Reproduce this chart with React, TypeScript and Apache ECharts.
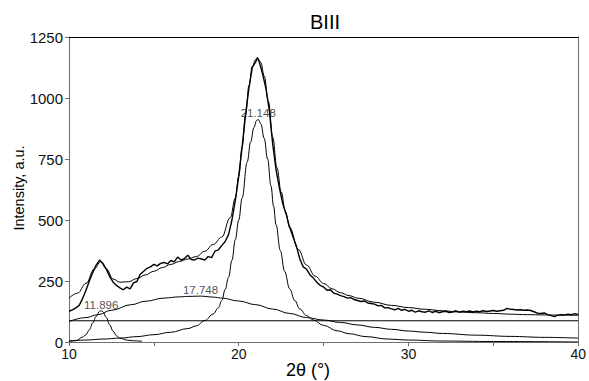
import React, { useEffect, useRef } from 'react';
import * as echarts from 'echarts';

const FONT = '"Liberation Sans", Arial, Helvetica, sans-serif';
const titleText = 'BIII';
const xTitle = '2θ (°)';
const yTitle = 'Intensity, a.u.';

const xMin = 10;
const xMax = 40;
const yMin = 0;
const yMax = 1250;

// measured diffraction pattern
const measured: [number, number][] = [
  [10.0, 126], [10.2, 132], [10.4, 140], [10.6, 150], [10.8, 178], [11.0, 212], [11.2, 250], [11.4, 285],
  [11.6, 315], [11.8, 336], [12.0, 322], [12.2, 298], [12.4, 268], [12.6, 245], [12.8, 232], [13.0, 222],
  [13.2, 214], [13.4, 225], [13.6, 218], [13.8, 242], [14.0, 248], [14.2, 278], [14.4, 290], [14.6, 302],
  [14.8, 308], [15.0, 318], [15.2, 312], [15.4, 322], [15.6, 326], [15.8, 320], [16.0, 334], [16.2, 328],
  [16.4, 348], [16.6, 336], [16.8, 342], [17.0, 356], [17.2, 338], [17.4, 336], [17.6, 344], [17.8, 340],
  [18.0, 336], [18.2, 350], [18.4, 346], [18.6, 372], [18.8, 378], [19.0, 395], [19.2, 412], [19.4, 440],
  [19.6, 500], [19.8, 580], [20.0, 680], [20.2, 800], [20.4, 930], [20.6, 1040], [20.8, 1125], [21.0, 1148],
  [21.1, 1166], [21.2, 1150], [21.4, 1100], [21.6, 1040], [21.8, 950], [22.0, 812], [22.2, 705], [22.4, 630],
  [22.6, 565], [22.8, 522], [23.0, 470], [23.2, 430], [23.4, 392], [23.6, 340], [23.8, 308], [24.0, 298],
  [24.2, 275], [24.4, 262], [24.6, 245], [24.8, 232], [25.0, 225], [25.2, 212], [25.4, 214], [25.6, 200],
  [25.8, 196], [26.0, 190], [26.2, 186], [26.4, 180], [26.6, 182], [26.8, 174], [27.0, 170], [27.2, 166],
  [27.4, 168], [27.6, 160], [27.8, 158], [28.0, 155], [28.2, 148], [28.4, 150], [28.6, 140], [28.8, 141],
  [29.0, 136], [29.2, 132], [29.4, 138], [29.6, 130], [29.8, 134], [30.0, 126], [30.2, 130], [30.4, 122],
  [30.6, 128], [30.8, 124], [31.0, 122], [31.2, 128], [31.4, 121], [31.6, 126], [31.8, 120], [32.0, 124],
  [32.2, 126], [32.4, 121], [32.6, 123], [32.8, 128], [33.0, 122], [33.2, 126], [33.4, 124], [33.6, 127],
  [33.8, 123], [34.0, 126], [34.2, 124], [34.4, 128], [34.6, 125], [34.8, 127], [35.0, 129], [35.2, 126],
  [35.4, 128], [35.6, 130], [35.8, 138], [36.0, 134], [36.2, 133], [36.4, 131], [36.6, 132], [36.8, 130],
  [37.0, 131], [37.2, 129], [37.4, 124], [37.6, 118], [37.8, 117], [38.0, 119], [38.2, 112], [38.4, 108],
  [38.6, 104], [38.8, 110], [39.0, 112], [39.2, 111], [39.4, 114], [39.6, 112], [39.8, 116], [40.0, 113],
];

// cumulative fit
const fitTotal: [number, number][] = [
  [10.0, 180], [10.5, 200], [11.0, 240], [11.5, 300], [11.85, 328], [12.2, 300], [12.6, 258], [13.0, 245],
  [13.5, 247], [14.0, 260], [14.5, 275], [15.0, 290], [15.5, 305], [16.0, 318], [16.5, 330], [17.0, 340],
  [17.5, 350], [18.0, 372], [18.5, 400], [19.0, 430], [19.5, 510], [19.8, 590], [20.0, 680], [20.2, 800],
  [20.4, 930], [20.6, 1050], [20.8, 1130], [21.0, 1158], [21.15, 1160], [21.3, 1145], [21.5, 1090],
  [21.75, 985], [22.0, 840], [22.25, 715], [22.5, 615], [22.75, 535], [23.0, 470], [23.5, 380], [24.0, 315],
  [24.5, 270], [25.0, 240], [25.5, 218], [26.0, 202], [26.5, 190], [27.0, 180], [28.0, 163], [29.0, 150],
  [30.0, 141], [31.0, 134], [32.0, 128], [33.0, 123], [34.0, 120], [35.0, 117], [36.0, 114], [37.0, 112],
  [38.0, 111], [39.0, 110], [40.0, 109],
];

// peak at 11.896
const peakSmall: [number, number][] = [
  [10.0, 1], [10.4, 5], [10.8, 20], [11.0, 30], [11.2, 50], [11.4, 78], [11.6, 105], [11.8, 126],
  [11.9, 128], [12.0, 124], [12.2, 100], [12.4, 70], [12.6, 44], [12.8, 25], [13.0, 16], [13.4, 8],
  [13.8, 5], [14.3, 3],
];

// broad amorphous peak at 17.748
const peakBroad: [number, number][] = [
  [10.0, 84], [11.0, 100], [11.7, 112], [12.5, 130], [13.67, 153], [14.5, 167], [15.6, 180], [16.5, 185],
  [17.08, 187], [17.75, 188], [18.5, 184], [19.0, 180], [20.0, 168], [21.0, 153], [22.0, 135], [23.0, 117],
  [24.0, 100], [25.0, 90], [26.0, 80], [27.0, 70], [28.0, 60], [29.0, 52], [30.0, 45], [31.0, 40],
  [32.0, 35], [34.0, 28], [36.0, 23], [38.0, 19], [40.0, 16],
];

// main crystalline peak at 21.148
const peakMain: [number, number][] = [
  [10.0, 5], [11.0, 8], [12.0, 12], [13.0, 16], [14.0, 22], [15.0, 30], [16.0, 40], [17.0, 55],
  [17.5, 66], [18.0, 88], [18.5, 115], [18.8, 140], [19.0, 170], [19.2, 215], [19.4, 265], [19.6, 335],
  [19.8, 420], [20.0, 500], [20.2, 590], [20.5, 738], [20.7, 820], [20.9, 880], [21.05, 908], [21.15, 912],
  [21.3, 895], [21.5, 835], [21.7, 750], [21.9, 640], [22.05, 557], [22.2, 480], [22.45, 375], [22.7, 290],
  [23.0, 218], [23.3, 170], [23.6, 135], [24.0, 108], [24.4, 90], [25.0, 68], [25.8, 46], [26.5, 34],
  [27.5, 22], [28.8, 12], [30.0, 8], [32.0, 4], [35.0, 2], [40.0, 0],
];

// flat background
const baseline: [number, number][] = [[10, 87], [40, 87]];

const peakCenters = [11.896, 17.748, 21.148];
const peakHeights = [128, 188, 912];

export default function App() {
  const ref = useRef<HTMLDivElement>(null);

  useEffect(() => {
    document.body.style.margin = '0';
    const chart = echarts.init(ref.current as HTMLDivElement, null, { renderer: 'svg' });

    const line = (name: string, data: [number, number][], width: number, smooth: number | boolean, z: number) => ({
      name,
      type: 'line',
      data,
      symbol: 'none',
      showSymbol: false,
      smooth,
      smoothMonotone: 'x',
      silent: true,
      z,
      itemStyle: { color: '#000' },
      lineStyle: { color: '#000', width },
    });

    const axisGray = '#6e6e6e';

    chart.setOption({
      animation: false,
      grid: { left: 69, right: 7, top: 37, bottom: 39, containLabel: false },
      xAxis: [
        {
          type: 'value',
          min: xMin,
          max: xMax,
          interval: 10,
          position: 'bottom',
          axisLine: { show: true, onZero: false, lineStyle: { color: axisGray, width: 1 } },
          axisTick: { show: true, length: 4, lineStyle: { color: axisGray } },
          minorTick: { show: true, splitNumber: 2, length: 4, lineStyle: { color: axisGray } },
          axisLabel: { fontSize: 14, color: '#111', margin: 5, fontFamily: FONT, formatter: (v: number) => String(v) },
          splitLine: { show: false },
        },
        {
          type: 'value',
          min: xMin,
          max: xMax,
          position: 'top',
          axisLine: { show: true, onZero: false, lineStyle: { color: '#000', width: 1 } },
          axisTick: { show: false },
          axisLabel: { show: false },
          splitLine: { show: false },
        },
      ],
      yAxis: [
        {
          type: 'value',
          min: yMin,
          max: yMax,
          interval: 250,
          axisLine: { show: true, onZero: false, lineStyle: { color: axisGray, width: 1 } },
          axisTick: { show: true, length: 4, lineStyle: { color: axisGray } },
          axisLabel: { fontSize: 15, color: '#111', margin: 6, fontFamily: FONT, formatter: (v: number) => String(v) },
          splitLine: { show: false },
        },
        {
          type: 'value',
          min: yMin,
          max: yMax,
          position: 'right',
          axisLine: { show: true, onZero: false, lineStyle: { color: axisGray, width: 1 } },
          axisTick: { show: false },
          axisLabel: { show: false },
          splitLine: { show: false },
        },
      ],
      graphic: [
        {
          type: 'text',
          x: 325,
          y: 22,
          style: { text: titleText, fontSize: 20, fontFamily: FONT, fill: '#000', textAlign: 'center', textVerticalAlign: 'middle' },
        },
        {
          type: 'text',
          x: 308,
          y: 370,
          style: { text: xTitle, fontSize: 18, fontFamily: FONT, fill: '#000', textAlign: 'center', textVerticalAlign: 'middle' },
        },
        {
          type: 'text',
          x: 19,
          y: 188,
          rotation: Math.PI / 2,
          style: { text: yTitle, fontSize: 14.5, fontFamily: FONT, fill: '#000', textAlign: 'center', textVerticalAlign: 'middle' },
        },
      ],
      series: [
        line('background', baseline, 1, false, 2),
        line('peak 11.896', peakSmall, 1, 0.4, 2),
        line('peak 17.748', peakBroad, 1, 0.4, 2),
        line('peak 21.148', peakMain, 1, 0.4, 2),
        line('fit', fitTotal, 1, 0.4, 3),
        line('measured', measured, 1.4, false, 4),
        {
          name: 'peak labels',
          type: 'scatter',
          symbolSize: 0,
          silent: true,
          z: 5,
          itemStyle: { color: '#222' },
          data: peakCenters.map((c, i) => [c, peakHeights[i]]),
          label: {
            show: true,
            position: 'top',
            distance: 0,
            fontSize: 11.5,
            fontFamily: FONT,
            color: '#222',
            textBorderWidth: 0,
            formatter: (p: any) => p.value[0].toFixed(3),
          },
        },
      ],
    });

    return () => chart.dispose();
  }, []);

  return <div ref={ref} style={{ width: 589, height: 381 }} />;
}
